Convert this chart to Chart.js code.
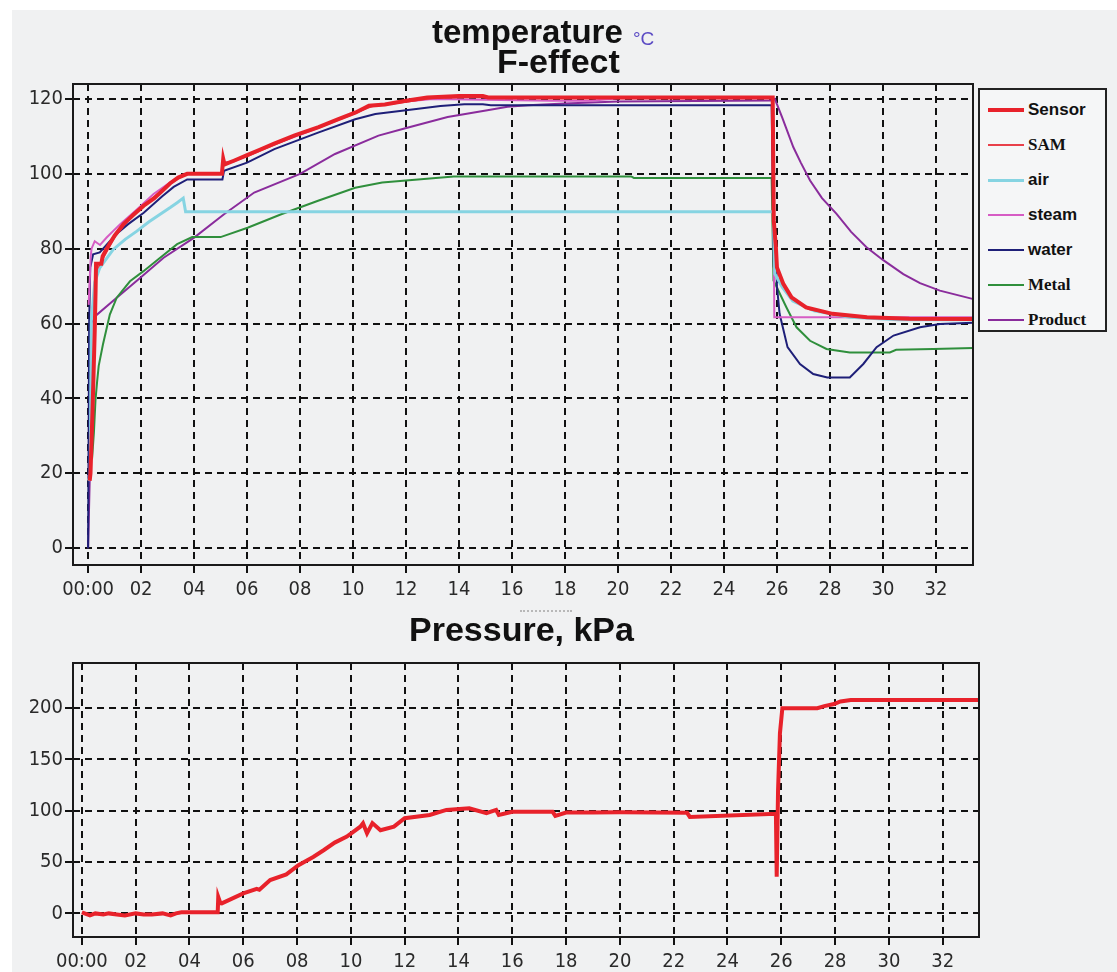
<!DOCTYPE html>
<html>
<head>
<meta charset="utf-8">
<script src="https://cdn.jsdelivr.net/npm/chart.js@4.4.1/dist/chart.umd.min.js"></script>
<style>
  body { margin: 0; background: #fff; width: 1117px; height: 972px; overflow: hidden; }
  #panel { position: absolute; left: 12px; top: 10px; width: 1105px; height: 962px; background: #f0f1f2; }
  canvas { position: absolute; }
  .title { position: absolute; font-family: 'Liberation Sans', Arial, sans-serif; font-weight: bold; color: #111; line-height: 1; white-space: nowrap; }
  #legend { position: absolute; left: 978px; top: 88px; width: 125px; height: 240px; border: 2px solid #222; background: #f5f6f7; }
  .item { position: absolute; left: 0; height: 20px; }
  .item span.ln { position: absolute; left: 8px; width: 36px; }
  .item span.tx { position: absolute; left: 48px; top: 0; font-size: 17px; font-weight: bold; color: #111; white-space: nowrap; line-height: 20px; }
  #splitter { position: absolute; left: 520px; top: 610px; width: 52px; border-top: 2px dotted #b8b8b8; }
</style>
</head>
<body>
<div id="panel"></div>
<canvas id="tempChart" width="985" height="600" style="left:0;top:0;"></canvas>
<canvas id="pressChart" width="990" height="372" style="left:0;top:600px;"></canvas>
<div class="title" style="left:432px;top:15px;font-size:33px;">temperature</div>
<div class="title" style="left:633px;top:29px;font-size:19px;font-weight:normal;color:#5b4bc4;">°C</div>
<div class="title" style="left:497px;top:44px;font-size:34px;">F-effect</div>
<div class="title" style="left:409px;top:612px;font-size:34px;">Pressure, kPa</div>
<div id="splitter"></div>
<div id="legend"></div>
<script>
// time in minutes
const timeTicks = [0, 2, 4, 6, 8, 10, 12, 14, 16, 18, 20, 22, 24, 26, 28, 30, 32];
const timeLabels = ['00:00', '02', '04', '06', '08', '10', '12', '14', '16', '18', '20', '22', '24', '26', '28', '30', '32'];
const tempTicks = [0, 20, 40, 60, 80, 100, 120];
const pressTicks = [0, 50, 100, 150, 200];

const seriesNames = ['Sensor', 'SAM', 'air', 'steam', 'water', 'Metal', 'Product'];
const seriesColors = ['#e8222b', '#e8404a', '#86d4e2', '#d65cc4', '#1e1f78', '#2f8f3c', '#8a2c9c'];

const sensorTime = [0.06, 0.09, 0.15, 0.2, 0.25, 0.28, 0.3, 0.5, 0.55, 0.7, 1.0, 1.33, 1.7, 2.1, 2.5, 2.8, 3.1, 3.4, 3.74, 5.05, 5.1, 5.15, 5.5, 6.0, 6.5, 7.0, 7.8, 8.7, 9.4, 10.1, 10.6, 11.2, 12.0, 12.8, 14.0, 14.9, 15.1, 25.84, 25.88, 25.96, 26.0, 26.24, 26.55, 27.1, 28.1, 29.4, 31.0, 33.4];
const sensorTemp = [18, 20, 33, 45, 58, 68, 76, 76, 78, 80, 83.5, 86.5, 89, 91.5, 93.5, 95.5, 97.5, 99, 100, 100, 104, 102.5, 103.5, 105, 106.5, 108, 110.3, 112.5, 114.5, 116.4, 118.2, 118.5, 119.5, 120.4, 120.8, 120.8, 120.4, 120.4, 87.5, 80.4, 75, 70.6, 67, 64.3, 62.6, 61.7, 61.3, 61.2];

const samTime = [0.08, 0.2, 0.3, 0.5, 1.0, 1.5, 2.0, 2.5, 3.0, 3.5, 3.8, 5.05, 5.12, 6.0, 7.0, 8.0, 9.0, 10.0, 10.7, 12.0, 13.0, 14.5, 25.84, 25.9, 26.0, 26.3, 26.6, 27.2, 28.2, 29.5, 33.4];
const samTemp = [20, 50, 74, 76.5, 83, 87.5, 91, 94, 96.8, 99.2, 100, 100, 102.8, 104.6, 107.6, 110.6, 113.4, 116, 118, 119.2, 120.2, 120.4, 120.2, 84, 74, 69.5, 66.5, 63.8, 62.3, 61.5, 61.3];

const airTime = [0, 0.08, 0.12, 0.25, 0.44, 0.95, 1.4, 1.84, 2.3, 2.72, 3.1, 3.36, 3.59, 3.68, 25.86, 25.92, 26.2, 26.6, 27.4, 28.75, 30.6, 33.4];
const airTemp = [18, 19, 60.6, 71, 74.9, 79.8, 82.5, 84.7, 87.2, 89.2, 91, 92.3, 93.5, 89.9, 89.9, 73.3, 69.7, 66, 63.4, 61.7, 61, 61];

const steamTime = [0.02, 0.1, 0.13, 0.25, 0.45, 0.7, 1.2, 1.84, 2.47, 3.1, 3.5, 3.8, 5.05, 5.1, 5.5, 7.0, 8.7, 10.1, 10.6, 12.0, 13.0, 17.5, 19.0, 20.0, 25.85, 25.9, 33.4];
const steamTemp = [65, 78, 80, 82, 81, 83, 86.5, 90.5, 94.6, 97.7, 99.5, 100, 100, 103, 103.3, 107.8, 112.3, 116.2, 118, 119.3, 120, 119.5, 119.5, 120.2, 120.2, 61.7, 61.7];

const waterTime = [0, 0.04, 0.08, 0.19, 0.44, 0.82, 1.14, 1.5, 2.1, 2.8, 3.23, 3.74, 5.07, 5.13, 6.0, 7.03, 8.68, 10.08, 10.84, 12.0, 13.3, 14.2, 14.9, 15.2, 25.8, 25.88, 25.92, 26.0, 26.1, 26.4, 26.87, 27.37, 27.9, 28.75, 29.26, 29.76, 30.4, 31.4, 32.15, 33.4];
const waterTemp = [0, 60, 75, 78.5, 79, 82, 84.3, 86.5, 89.6, 94, 96.5, 98.5, 98.5, 100.8, 103, 106.6, 111, 114.6, 116, 117, 118.1, 118.6, 118.6, 118.3, 118.3, 75, 86, 70, 62.6, 53.7, 49.2, 46.5, 45.6, 45.6, 49.2, 53.7, 56.8, 59, 59.9, 60.2];

const metalTime = [0.15, 0.22, 0.28, 0.34, 0.4, 0.56, 0.82, 1.08, 1.58, 2.09, 2.72, 3.36, 3.93, 5.0, 6.02, 7.29, 8.68, 10.08, 11.1, 12.0, 13.8, 20.5, 20.6, 25.8, 25.87, 26.36, 26.74, 27.25, 27.87, 28.75, 30.26, 30.5, 31.9, 33.4];
const metalTemp = [24, 31, 39.7, 44.5, 48.7, 54.4, 62.4, 66.9, 71.3, 74, 77.6, 81.2, 83.1, 83.1, 85.6, 89.2, 92.8, 96.3, 97.7, 98.2, 99.3, 99.3, 98.9, 98.9, 71.5, 64.3, 59, 55.4, 53.2, 52.3, 52.3, 53, 53.2, 53.5];

const productTime = [0, 0.06, 0.12, 0.19, 1.08, 1.96, 2.85, 3.99, 5.13, 6.27, 8.0, 9.32, 10.96, 11.94, 13.57, 15.07, 15.83, 16.6, 18.0, 20.0, 25.8, 25.92, 26.2, 26.62, 26.9, 27.25, 27.7, 28.25, 28.8, 29.38, 30.0, 30.77, 31.4, 32.15, 33.38];
const productTemp = [0, 18, 60, 61.5, 66.9, 72.2, 77.6, 82.9, 89.2, 95, 100, 105.3, 110.2, 112.1, 115.2, 117, 117.9, 118.3, 118.8, 119.3, 119.6, 120, 115, 107.1, 103, 98.2, 93.5, 89.3, 84.5, 80.4, 77, 73.2, 70.8, 68.8, 66.6];

const pressTime = [0, 0.3, 0.5, 0.8, 1.0, 1.3, 1.6, 2.0, 2.3, 2.6, 3.0, 3.3, 3.5, 3.7, 5.05, 5.07, 5.15, 5.2, 6.0, 6.5, 6.6, 7.0, 7.6, 8.05, 8.6, 9.0, 9.4, 9.85, 10.35, 10.45, 10.6, 10.8, 11.1, 11.6, 12.0, 12.93, 13.55, 14.4, 15.04, 15.4, 15.5, 16.0, 17.5, 17.6, 18.0, 19.0, 20.0, 22.5, 22.6, 25.8, 25.83, 25.88, 25.95, 26.04, 27.34, 27.6, 27.96, 28.2, 28.58, 33.4];
const pressVal = [1, -2, 0, -1, 0, -1, -2, 0, -1, -1, 0, -2, 0, 1, 1, 16, 10, 9.8, 19.5, 24, 23, 32.5, 38, 47, 55, 61.8, 69, 74.8, 84.5, 87.8, 78, 88, 81, 84.5, 92.7, 95.9, 100.8, 102.4, 97.6, 100.8, 95.9, 99, 99, 95, 98.2, 98.2, 98.5, 98, 94, 97, 35.8, 120, 175.6, 200, 200, 202, 204, 206.5, 208, 208];

const tempSeries = [
  [sensorTime, sensorTemp, 4],
  [samTime, samTemp, 1.5],
  [airTime, airTemp, 3],
  [steamTime, steamTemp, 2],
  [waterTime, waterTemp, 2],
  [metalTime, metalTemp, 2],
  [productTime, productTemp, 2]
];

function toPoints(xs, ys) {
  return xs.map((x, i) => ({ x: x, y: ys[i] }));
}

const tickFont = { family: "'DejaVu Sans Condensed', Roboto, sans-serif", size: 20 };

const framePlugin = {
  id: 'frame',
  afterDraw(chart) {
    const a = chart.chartArea;
    const ctx = chart.ctx;
    ctx.save();
    ctx.strokeStyle = '#1a1a1a';
    ctx.lineWidth = 2;
    ctx.strokeRect(a.left, a.top, a.right - a.left, a.bottom - a.top);
    ctx.restore();
  }
};

function makeScales(xMin, xMax, yMin, yMax, yTicks) {
  const gridOpts = { color: '#111', lineWidth: 2, tickLength: 8, tickColor: '#111', tickWidth: 2 };
  return {
    x: {
      type: 'linear', min: xMin, max: xMax,
      grid: gridOpts,
      border: { display: false, dash: [7, 5] },
      afterBuildTicks: s => { s.ticks = timeTicks.map(v => ({ value: v })); },
      afterFit: s => { s.height = 35; },
      ticks: {
        font: tickFont, color: '#2a2a2a', padding: 5, maxRotation: 0, autoSkip: false,
        callback: v => timeLabels[timeTicks.indexOf(v)]
      }
    },
    y: {
      min: yMin, max: yMax,
      grid: gridOpts,
      border: { display: false, dash: [7, 5] },
      afterBuildTicks: s => { s.ticks = yTicks.map(v => ({ value: v })); },
      afterFit: s => { s.width = 73; },
      ticks: { font: tickFont, color: '#2a2a2a', padding: 2 }
    }
  };
}

new Chart(document.getElementById('tempChart'), {
  type: 'line',
  data: {
    datasets: tempSeries.map((s, i) => ({
      label: seriesNames[i],
      data: toPoints(s[0], s[1]),
      borderColor: seriesColors[i],
      borderWidth: s[2],
      pointRadius: 0,
      tension: 0
    }))
  },
  options: {
    responsive: false,
    animation: false,
    layout: { padding: { top: 84, right: 12, left: 0, bottom: 0 } },
    plugins: { legend: { display: false }, tooltip: { enabled: false } },
    scales: makeScales(-0.57, 33.4, -4.5, 124, tempTicks)
  },
  plugins: [framePlugin]
});

new Chart(document.getElementById('pressChart'), {
  type: 'line',
  data: {
    datasets: [{
      label: 'Pressure',
      data: toPoints(pressTime, pressVal),
      borderColor: '#e8222b',
      borderWidth: 4,
      pointRadius: 0,
      tension: 0
    }]
  },
  options: {
    responsive: false,
    animation: false,
    layout: { padding: { top: 63, right: 11, left: 0, bottom: 0 } },
    plugins: { legend: { display: false }, tooltip: { enabled: false } },
    scales: makeScales(-0.33, 33.35, -23, 244, pressTicks)
  },
  plugins: [framePlugin]
});

// legend box, mixed fonts like the original
const serifNames = ['SAM', 'Metal', 'Product'];
const legend = document.getElementById('legend');
seriesNames.forEach((name, i) => {
  const item = document.createElement('div');
  item.className = 'item';
  item.style.top = (10 + i * 35) + 'px';
  const ln = document.createElement('span');
  ln.className = 'ln';
  const w = tempSeries[i][2];
  ln.style.top = (10 - w / 2) + 'px';
  ln.style.height = w + 'px';
  ln.style.background = seriesColors[i];
  const tx = document.createElement('span');
  tx.className = 'tx';
  tx.textContent = name;
  tx.style.fontFamily = serifNames.includes(name) ? "'Liberation Serif', 'Times New Roman', serif" : "'Liberation Sans', Arial, sans-serif";
  item.appendChild(ln);
  item.appendChild(tx);
  legend.appendChild(item);
});
</script>
</body>
</html>
